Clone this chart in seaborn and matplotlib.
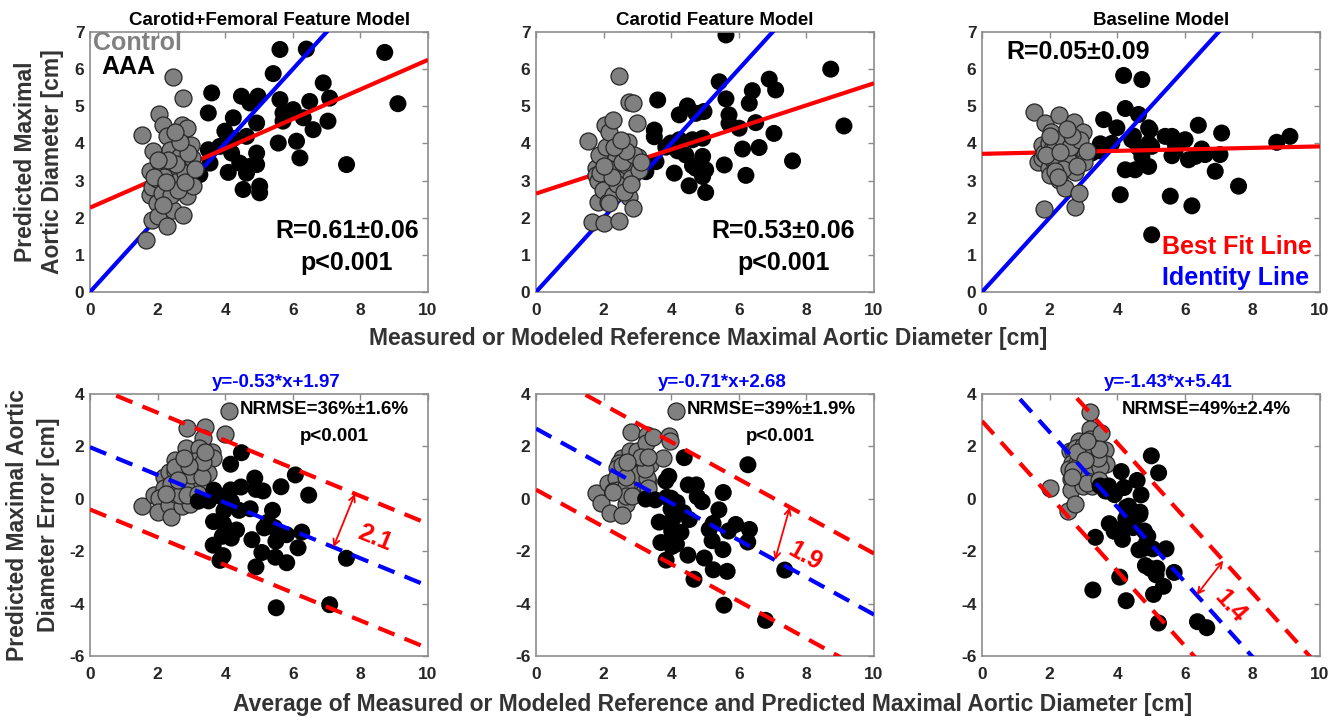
import numpy as np
import pandas as pd
import matplotlib
matplotlib.use("Agg")
import matplotlib.pyplot as plt
import seaborn as sns

# ---------------------------------------------------------------- data
model_titles = ["Carotid+Femoral Feature Model", "Carotid Feature Model", "Baseline Model"]

# control subjects: reference maximal aortic diameter [cm]
ctrl_ref = [1.53, 1.67, 1.77, 1.77, 1.82, 1.87, 1.82, 1.97, 1.97, 2.02,
            2.05, 2.07, 2.12, 2.17, 2.27, 2.27, 2.36, 2.37, 2.45, 2.46,
            2.51, 2.66, 2.71, 2.74, 2.76, 2.81, 2.86, 2.86, 3.00, 3.05,
            3.01, 2.20, 2.55, 2.40, 2.60, 2.90, 2.15, 1.90, 2.65, 2.30,
            2.80, 2.50, 2.25, 3.10, 2.00]
# control subjects: predicted diameter per model
ctrl_pred_cf = [4.23, 1.41, 3.25, 2.62, 1.95, 3.79, 2.84, 3.03, 2.40, 2.04,
                4.78, 3.47, 2.67, 4.50, 4.19, 1.77, 3.29, 3.82, 5.80, 2.22,
                2.97, 3.65, 4.50, 5.22, 2.06, 3.20, 4.42, 2.58, 3.97, 2.85,
                3.60, 3.10, 3.45, 2.60, 2.75, 3.75, 2.35, 3.10, 4.05, 3.55,
                2.95, 4.30, 2.95, 3.30, 3.55]
ctrl_pred_c = [4.07, 1.88, 3.33, 3.14, 2.43, 3.69, 3.00, 3.24, 2.75, 1.85,
               4.50, 3.91, 2.41, 4.31, 4.63, 2.60, 3.06, 3.60, 5.82, 1.92,
               3.29, 3.42, 4.05, 5.12, 2.57, 3.06, 5.08, 2.25, 4.54, 3.29,
               3.64, 3.30, 3.50, 2.90, 2.70, 3.69, 2.40, 3.20, 3.80, 3.90,
               2.90, 4.10, 3.10, 3.50, 3.40]
ctrl_pred_base = [4.85, 3.51, 3.96, 3.60, 2.23, 4.54, 3.75, 4.00, 3.33, 3.15,
                  4.32, 3.85, 3.50, 3.90, 4.77, 3.02, 3.60, 4.14, 2.80, 3.40,
                  3.70, 4.00, 4.59, 3.24, 2.30, 3.60, 3.91, 2.66, 4.32, 3.70,
                  3.50, 3.46, 3.55, 3.30, 3.90, 4.10, 3.25, 3.70, 4.20, 3.78,
                  3.40, 4.40, 3.10, 3.80, 4.20]

# AAA patients: reference maximal aortic diameter [cm]
aaa_ref = [3.25, 3.50, 3.50, 3.55, 3.60, 3.84, 3.99, 4.09, 4.19, 4.24,
           4.24, 4.43, 4.48, 4.53, 4.63, 4.63, 4.73, 4.73, 4.93, 4.93,
           4.93, 4.97, 5.02, 5.02, 5.42, 5.57, 5.62, 5.62, 5.71, 5.71,
           6.01, 6.11, 6.21, 6.31, 6.40, 6.50, 6.60, 6.90, 7.04, 7.09,
           7.59, 8.72, 9.11]
# AAA patients: predicted diameter per model
aaa_pred_cf = [3.16, 4.82, 3.83, 3.47, 5.36, 3.92, 4.33, 3.22, 3.74, 4.69,
               4.13, 3.47, 5.27, 2.76, 4.19, 3.20, 5.09, 3.38, 4.55, 3.74,
               3.43, 5.27, 2.85, 2.67, 5.88, 4.01, 6.53, 5.18, 4.82, 4.60,
               4.91, 4.06, 3.61, 4.69, 6.54, 5.13, 4.37, 5.63, 4.60, 5.22,
               3.43, 6.45, 5.07]
aaa_pred_c = [3.24, 4.36, 4.18, 3.51, 5.17, 3.90, 4.01, 3.20, 3.80, 4.77,
              4.10, 3.69, 5.01, 2.86, 4.10, 3.40, 4.81, 3.33, 4.14, 3.65,
              3.11, 4.86, 3.29, 2.68, 5.66, 3.42, 6.92, 5.20, 4.77, 4.54,
              4.41, 3.85, 3.14, 5.08, 5.42, 4.56, 3.89, 5.73, 4.27, 5.44,
              3.53, 6.00, 4.47]
aaa_pred_base = [3.74, 3.99, 3.80, 3.85, 4.64, 4.00, 4.42, 2.62, 5.83, 4.94,
                 3.29, 4.10, 4.20, 3.29, 4.78, 3.88, 5.72, 3.65, 4.42, 3.38,
                 4.00, 4.37, 1.54, 3.92, 4.19, 2.58, 4.19, 3.67, 4.00, 3.80,
                 4.10, 3.56, 2.32, 3.65, 4.49, 3.85, 3.70, 3.25, 3.70, 4.28,
                 2.85, 4.03, 4.19]

# best fit lines of predicted vs reference
fit_intercept = [2.27, 2.65, 3.72]
fit_slope = [0.398, 0.297, 0.020]
r_labels = ["R=0.61\u00b10.06", "R=0.53\u00b10.06", "R=0.05\u00b10.09"]
p_labels = ["p<0.001", "p<0.001", ""]

# Bland-Altman regression of error vs average, limits given as perpendicular distance
ba_slope = [-0.53, -0.71, -1.43]
ba_intercept = [1.97, 2.68, 5.41]
ba_distance = [2.1, 1.9, 1.4]
nrmse_labels = ["NRMSE=36%\u00b11.6%", "NRMSE=39%\u00b11.9%", "NRMSE=49%\u00b12.4%"]

ctrl_preds = [ctrl_pred_cf, ctrl_pred_c, ctrl_pred_base]
aaa_preds = [aaa_pred_cf, aaa_pred_c, aaa_pred_base]

# ---------------------------------------------------------------- style
sns.set_theme(style="white")
plt.rcParams["font.family"] = ["Liberation Sans", "DejaVu Sans"]
plt.rcParams["font.weight"] = "bold"
plt.rcParams["axes.unicode_minus"] = False

FIG_W, FIG_H = 1341, 718
fig = plt.figure(figsize=(FIG_W / 100, FIG_H / 100), dpi=100)

lefts = [90, 536, 982]
ax_w = 338
top_row = (32, 292)
bot_row = (394, 656)

GRAY = "#808080"
TICK_COL = "#262626"
SPINE_COL = "#8c8c8c"
BLUE = "#0000ff"
RED = "#ff0000"
MS = 150
LW = 3.0
DASH = (0, (4.2, 2.6))


def make_axes(left, rows):
    t, b = rows
    return fig.add_axes([left / FIG_W, 1 - b / FIG_H, ax_w / FIG_W, (b - t) / FIG_H])


def style_axes(ax):
    for s in ax.spines.values():
        s.set_color(SPINE_COL)
        s.set_linewidth(1.2)
    ax.tick_params(direction="in", length=4, width=1, color=SPINE_COL,
                   top=True, right=True, labelsize=12.5, labelcolor=TICK_COL)
    ax.tick_params(axis="x", pad=8)
    ax.tick_params(axis="y", pad=4)
    for lab in ax.get_xticklabels() + ax.get_yticklabels():
        lab.set_fontweight("bold")


top_axes, bot_axes = [], []
for i in range(3):
    # ---------------- predicted vs reference
    ax = make_axes(lefts[i], top_row)
    top_axes.append(ax)
    sns.scatterplot(x=aaa_ref, y=aaa_preds[i], color="black", s=MS,
                    edgecolor="none", linewidth=0, ax=ax, zorder=2)
    xs = np.array([0, 10])
    ax.plot(xs, xs, color=BLUE, lw=LW, zorder=3, solid_capstyle="butt")
    ax.plot(xs, fit_intercept[i] + fit_slope[i] * xs, color=RED, lw=LW,
            zorder=3, solid_capstyle="butt")
    sns.scatterplot(x=ctrl_ref, y=ctrl_preds[i], color=GRAY, s=MS,
                    edgecolor="#262626", linewidth=0.9, ax=ax, zorder=4)
    ax.set_xlim(0, 10)
    ax.set_ylim(0, 7)
    ax.set_xticks(range(0, 11, 2))
    ax.set_yticks(range(0, 8))
    style_axes(ax)
    ax.text(0.53, 1.012, model_titles[i], transform=ax.transAxes, ha="center",
            va="bottom", fontsize=13.5, fontweight="bold", color="black")

    # ---------------- Bland-Altman
    bx = make_axes(lefts[i], bot_row)
    bot_axes.append(bx)
    c_ref, c_pred = np.array(ctrl_ref), np.array(ctrl_preds[i])
    a_ref, a_pred = np.array(aaa_ref), np.array(aaa_preds[i])
    ba = pd.DataFrame({
        "avg": np.concatenate([(c_ref + c_pred) / 2, (a_ref + a_pred) / 2]),
        "err": np.concatenate([c_pred - c_ref, a_pred - a_ref]),
        "group": ["Control"] * len(c_ref) + ["AAA"] * len(a_ref),
    })
    sns.scatterplot(data=ba[ba.group == "Control"], x="avg", y="err", color=GRAY,
                    s=MS, edgecolor="#262626", linewidth=0.9, ax=bx, zorder=2)
    sns.scatterplot(data=ba[ba.group == "AAA"], x="avg", y="err", color="black",
                    s=MS, edgecolor="none", linewidth=0, ax=bx, zorder=3)
    m, b0 = ba_slope[i], ba_intercept[i]
    off = ba_distance[i] * np.sqrt(1 + m ** 2)
    xl = np.linspace(0, 10, 200)
    bx.plot(xl, m * xl + b0, color=BLUE, lw=LW, ls=DASH, zorder=4)
    bx.plot(xl, m * xl + b0 + off, color=RED, lw=LW, ls=DASH, zorder=4)
    bx.plot(xl, m * xl + b0 - off, color=RED, lw=LW, ls=DASH, zorder=4)
    bx.set_xlim(0, 10)
    bx.set_ylim(-6, 4)
    bx.set_xticks(range(0, 11, 2))
    bx.set_yticks(range(-6, 5, 2))
    style_axes(bx)
    bx.set_xlabel("")
    bx.set_ylabel("")
    ax.set_xlabel("")
    ax.set_ylabel("")

    eq = f"y={m:.2f}*x+{b0:.2f}"
    bx.text(0.55, 1.012, eq, transform=bx.transAxes, ha="center", va="bottom",
            fontsize=13.5, fontweight="bold", color=BLUE)

# ---------------------------------------------------------------- annotations
ax0, ax1, ax2 = top_axes
ax0.text(0.08, 6.70, "Control", fontsize=18, fontweight="bold", color=GRAY,
         ha="left", va="center")
ax0.text(0.33, 6.07, "AAA", fontsize=18, fontweight="bold", color="black",
         ha="left", va="center")
r_pos = [(7.6, 1.65), (7.32, 1.65), (2.85, 6.47)]
for i, ax in enumerate(top_axes):
    ax.text(*r_pos[i], r_labels[i], fontsize=18, fontweight="bold",
            color="black", ha="center", va="center")
    if p_labels[i]:
        ax.text(r_pos[i][0], 0.78, p_labels[i], fontsize=18, fontweight="bold",
                color="black", ha="center", va="center")
ax2.text(5.32, 1.22, "Best Fit Line", fontsize=18, fontweight="bold", color=RED,
         ha="left", va="center")
ax2.text(5.32, 0.37, "Identity Line", fontsize=18, fontweight="bold", color=BLUE,
         ha="left", va="center")

nr_x = [4.44, 4.46, 4.13]
for i, bx in enumerate(bot_axes):
    bx.text(nr_x[i], 3.39, nrmse_labels[i], fontsize=13.5, fontweight="bold",
            color="black", ha="left", va="center")
    if p_labels[i]:
        bx.text(7.23, 2.37, p_labels[i], fontsize=13.5, fontweight="bold",
                color="black", ha="center", va="center")

# distance arrows between regression line and upper limit
arrow_x = [(7.2, 7.84), (7.07, 7.51), (6.35, 7.14)]
dist_pos = [(8.43, -1.51), (7.97, -2.21), (7.34, -4.12)]
dist_rot = [-22, -29, -48]
for i, bx in enumerate(bot_axes):
    m, b0 = ba_slope[i], ba_intercept[i]
    off = ba_distance[i] * np.sqrt(1 + m ** 2)
    x0, x1 = arrow_x[i]
    bx.annotate("", xy=(x1, m * x1 + b0 + off), xytext=(x0, m * x0 + b0),
                arrowprops=dict(arrowstyle="<->", color=RED, lw=1.3,
                                mutation_scale=11, shrinkA=0, shrinkB=0),
                zorder=5)
    bx.text(*dist_pos[i], f"{ba_distance[i]:.1f}", fontsize=18, fontweight="bold",
            color=RED, ha="center", va="center", rotation=dist_rot[i],
            rotation_mode="anchor")

# ---------------------------------------------------------------- axis labels
LABEL_COL = "#333333"
fig.text(25 / FIG_W, 1 - 162 / FIG_H, "Predicted Maximal", rotation=90,
         ha="center", va="center", fontsize=16.5, fontweight="bold", color=LABEL_COL)
fig.text(53 / FIG_W, 1 - 162 / FIG_H, "Aortic Diameter [cm]", rotation=90,
         ha="center", va="center", fontsize=16.5, fontweight="bold", color=LABEL_COL)
fig.text(18 / FIG_W, 1 - 525 / FIG_H, "Predicted Maximal Aortic", rotation=90,
         ha="center", va="center", fontsize=16.5, fontweight="bold", color=LABEL_COL)
fig.text(49 / FIG_W, 1 - 525 / FIG_H, "Diameter Error [cm]", rotation=90,
         ha="center", va="center", fontsize=16.5, fontweight="bold", color=LABEL_COL)
fig.text(708 / FIG_W, 1 - 338 / FIG_H,
         "Measured or Modeled Reference Maximal Aortic Diameter [cm]",
         ha="center", va="center", fontsize=16.5, fontweight="bold", color=LABEL_COL)
fig.text(713 / FIG_W, 1 - 705 / FIG_H,
         "Average of Measured or Modeled Reference and Predicted Maximal Aortic Diameter [cm]",
         ha="center", va="center", fontsize=16.5, fontweight="bold", color=LABEL_COL)

fig.savefig("out.png", dpi=100, facecolor="white")
